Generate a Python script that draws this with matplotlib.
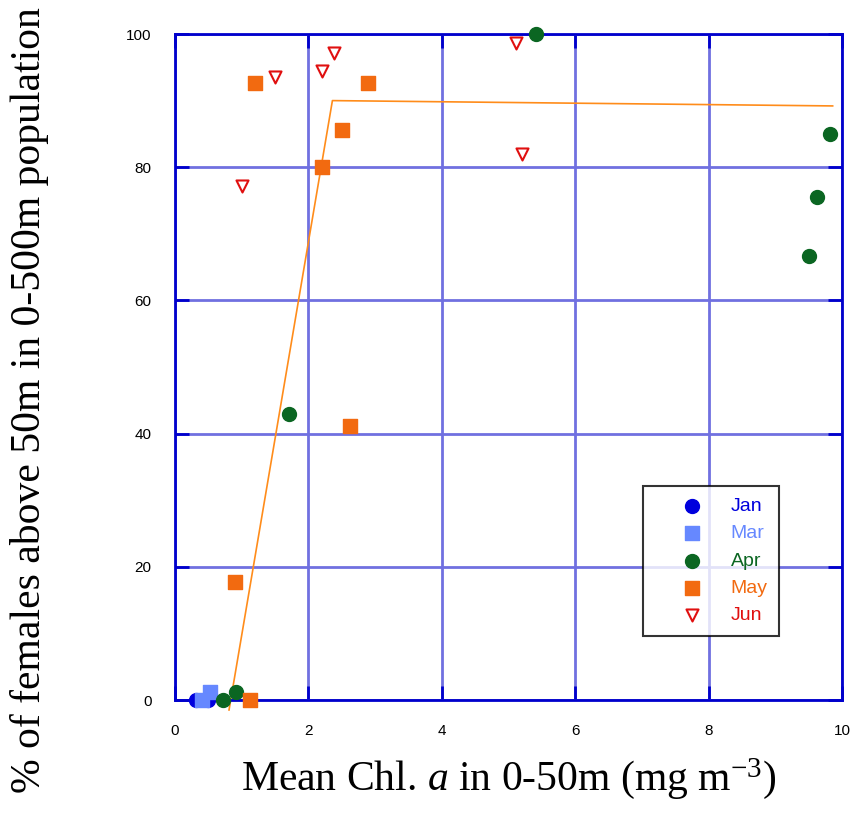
import matplotlib
matplotlib.use("Agg")
import matplotlib.pyplot as plt

plt.rcParams["mathtext.fontset"] = "custom"
plt.rcParams["mathtext.it"] = "Liberation Serif:italic"
plt.rcParams["mathtext.rm"] = "Liberation Serif"

# Data
jan_x = [0.32, 0.50]
jan_y = [0.0, 0.0]
mar_x = [0.40, 0.52]
mar_y = [0.0, 1.2]
apr_x = [0.72, 0.91, 1.71, 5.41, 9.82, 9.62, 9.51]
apr_y = [0.0, 1.2, 43.0, 100.0, 85.0, 75.6, 66.6]
may_x = [0.90, 1.12, 1.20, 2.90, 2.51, 2.21, 2.62]
may_y = [17.7, 0.0, 92.6, 92.6, 85.6, 80.1, 41.1]
jun_x = [1.50, 2.39, 2.20, 1.00, 5.11, 5.20]
jun_y = [93.6, 97.2, 94.4, 77.2, 98.6, 82.0]
fit_x = [0.81, 2.36, 9.86]
fit_y = [-1.5, 90.0, 89.2]

x_ticks = [0, 2, 4, 6, 8, 10]
y_ticks = [0, 20, 40, 60, 80, 100]

fig = plt.figure(figsize=(8.55, 8.21), dpi=100)
ax = fig.add_axes([175 / 855, 1 - 700 / 821, 667 / 855, 666 / 821])

ax.plot(fit_x, fit_y, color="#ff8c1a", lw=1.2, zorder=2, clip_on=False)

ms = 100
ax.scatter(jan_x, jan_y, s=ms, marker="o", color="#0000dd", label="Jan", zorder=3, clip_on=False)
ax.scatter(mar_x, mar_y, s=ms, marker="s", color="#6688ff", label="Mar", zorder=3, clip_on=False)
ax.scatter(apr_x, apr_y, s=ms, marker="o", color="#0b6622", label="Apr", zorder=3, clip_on=False)
ax.scatter(may_x, may_y, s=ms, marker="s", color="#f26a10", label="May", zorder=3, clip_on=False)
ax.scatter(jun_x, jun_y, s=75, marker="v", facecolor="white", edgecolor="#e01010",
           linewidth=1.5, label="Jun", zorder=3, clip_on=False)

ax.set_xlim(0, 10)
ax.set_ylim(0, 100)
ax.set_xticks(x_ticks)
ax.set_yticks(y_ticks)
ax.grid(True, color="#7070e0", lw=2.0, zorder=1)
ax.set_axisbelow(True)
for sp in ax.spines.values():
    sp.set_color("#0000cc")
    sp.set_linewidth(2)
ax.tick_params(direction="in", length=10, width=2, color="#0000cc",
               top=True, right=True, labelsize=11, pad=17)
for lab in ax.get_xticklabels() + ax.get_yticklabels():
    lab.set_family("Liberation Sans")

ax.set_xlabel("Mean Chl. $\\mathit{a}$ in 0-50m (mg m$^{\\mathrm{-3}}$)",
              family="Liberation Serif", fontsize=30, labelpad=13)
fig.text(30 / 855, 1 - 400 / 821, "% of females above 50m in 0-500m population",
         family="Liberation Serif", fontsize=30, rotation=90,
         ha="center", va="center")

leg = ax.legend(loc="lower left", bbox_to_anchor=(643 / 855, 1 - 636 / 821),
                bbox_transform=fig.transFigure, frameon=True, fancybox=False,
                prop={"family": "Liberation Sans", "size": 14},
                handletextpad=0.1, borderpad=0.6, borderaxespad=0,
                labelspacing=0.5, handlelength=3.8)
leg.get_frame().set_edgecolor("black")
leg.get_frame().set_linewidth(1.5)
for txt, c in zip(leg.get_texts(), ["#0000dd", "#6688ff", "#0b6622", "#f26a10", "#e01010"]):
    txt.set_color(c)

fig.savefig("out.png", dpi=100)
